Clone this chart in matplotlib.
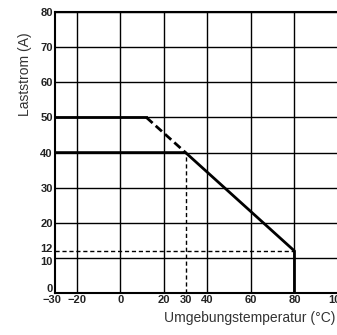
import numpy as np
import matplotlib.pyplot as plt
import matplotlib.transforms as mtransforms

plt.rcParams['font.family'] = ['Liberation Sans', 'DejaVu Sans']

# derating curve (solid): ambient temperature vs load current
temp_solid = [-30, 30, 80, 80]
curr_solid = [40, 40, 12, 0]
# upper curve (dashed)
temp_dash_flat = [-30, 12]
curr_dash_flat = [50, 50]
temp_dash_slope = [12, 30]
curr_dash_slope = [50, 40]
# guide lines
guide_x = 30
guide_x_top = 40
guide_y = 12
guide_y_right = 80

xticks = [-30, -20, 0, 20, 30, 40, 60, 80, 100]
yticks = [0, 10, 12, 20, 30, 40, 50, 60, 70, 80]
xgrid = [-20, 0, 20, 40, 60, 80, 100]
ygrid = [10, 20, 30, 40, 50, 60, 70, 80]

fig = plt.figure(figsize=(3.37, 3.35), dpi=100)
ax = fig.add_axes([0.163, 0.125, 0.84, 0.839])
ax.set_xlim(-30, 100)
ax.set_ylim(0, 80)

for gx in xgrid:
    ax.axvline(gx, color='black', lw=1.0, zorder=1)
for gy in ygrid:
    ax.axhline(gy, color='black', lw=1.0, zorder=1)

ax.plot([guide_x, guide_x], [0, guide_x_top], color='black', lw=1.0,
        ls=(0, (3, 2)), zorder=2)
ax.plot([-30, guide_y_right], [guide_y, guide_y], color='black', lw=1.0,
        ls=(0, (3, 2)), zorder=2)

ax.plot(temp_dash_flat, curr_dash_flat, color='black', lw=2.0, zorder=3)
ax.plot(temp_dash_slope, curr_dash_slope, color='black', lw=2.0,
        ls=(0, (3, 1.5)), zorder=3)
ax.plot(temp_solid, curr_solid, color='black', lw=2.0, zorder=3)

ax.set_xticks(xticks)
ax.set_xticklabels(['\u221230', '\u221220', '0', '20', '30', '40', '60', '80', '100'])
ax.set_yticks(yticks)
ax.tick_params(length=0, labelsize=8, pad=1.5)
for lab in ax.get_xticklabels() + ax.get_yticklabels():
    lab.set_fontweight('bold')
    lab.set_color('#222222')

# nudge crowded labels apart
ylabs = ax.get_yticklabels()
shifts = {0: 4, 1: -2, 2: 2}
for i, dy in shifts.items():
    off = mtransforms.ScaledTranslation(0, dy / 72.0, fig.dpi_scale_trans)
    ylabs[i].set_transform(ylabs[i].get_transform() + off)
xlabs = ax.get_xticklabels()
off = mtransforms.ScaledTranslation(-2 / 72.0, 0, fig.dpi_scale_trans)
xlabs[0].set_transform(xlabs[0].get_transform() + off)

for sp in ax.spines.values():
    sp.set_linewidth(1.5)

fig.text(0.075, 0.78, 'Laststrom (A)', rotation=90, ha='center', va='center',
         fontsize=10, color='#333333')
fig.text(0.995, 0.05, 'Umgebungstemperatur (\u00b0C)', ha='right', va='center',
         fontsize=10, color='#333333')

fig.savefig('out.png', dpi=100)
